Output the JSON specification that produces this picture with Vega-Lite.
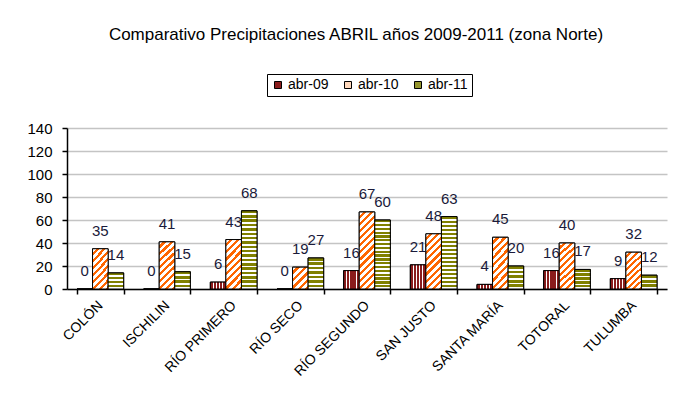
{
  "$schema": "https://vega.github.io/schema/vega-lite/v6.json",
  "width": 600,
  "height": 161,
  "autosize": "none",
  "padding": {"left": 67, "top": 128, "right": 14, "bottom": 125},
  "background": "white",
  "config": {
    "view": {"stroke": null},
    "font": "Liberation Sans",
    "axis": {"labelFont": "Liberation Sans", "labelColor": "#000000"}
  },
  "title": {
    "text": "Comparativo Precipitaciones ABRIL años 2009-2011 (zona Norte)",
    "font": "Liberation Sans",
    "fontSize": 17,
    "fontWeight": "normal",
    "color": "#000000",
    "anchor": "middle",
    "frame": "group",
    "dx": -11,
    "offset": 30
  },
  "data": {
    "values": [
      {"zone": "COLÓN", "year": "abr-09", "value": 0},
      {"zone": "COLÓN", "year": "abr-10", "value": 35},
      {"zone": "COLÓN", "year": "abr-11", "value": 14},
      {"zone": "ISCHILIN", "year": "abr-09", "value": 0},
      {"zone": "ISCHILIN", "year": "abr-10", "value": 41},
      {"zone": "ISCHILIN", "year": "abr-11", "value": 15},
      {"zone": "RÍO PRIMERO", "year": "abr-09", "value": 6},
      {"zone": "RÍO PRIMERO", "year": "abr-10", "value": 43},
      {"zone": "RÍO PRIMERO", "year": "abr-11", "value": 68},
      {"zone": "RÍO SECO", "year": "abr-09", "value": 0},
      {"zone": "RÍO SECO", "year": "abr-10", "value": 19},
      {"zone": "RÍO SECO", "year": "abr-11", "value": 27},
      {"zone": "RÍO SEGUNDO", "year": "abr-09", "value": 16},
      {"zone": "RÍO SEGUNDO", "year": "abr-10", "value": 67},
      {"zone": "RÍO SEGUNDO", "year": "abr-11", "value": 60},
      {"zone": "SAN JUSTO", "year": "abr-09", "value": 21},
      {"zone": "SAN JUSTO", "year": "abr-10", "value": 48},
      {"zone": "SAN JUSTO", "year": "abr-11", "value": 63},
      {"zone": "SANTA MARÍA", "year": "abr-09", "value": 4},
      {"zone": "SANTA MARÍA", "year": "abr-10", "value": 45},
      {"zone": "SANTA MARÍA", "year": "abr-11", "value": 20},
      {"zone": "TOTORAL", "year": "abr-09", "value": 16},
      {"zone": "TOTORAL", "year": "abr-10", "value": 40},
      {"zone": "TOTORAL", "year": "abr-11", "value": 17},
      {"zone": "TULUMBA", "year": "abr-09", "value": 9},
      {"zone": "TULUMBA", "year": "abr-10", "value": 32},
      {"zone": "TULUMBA", "year": "abr-11", "value": 12}
    ]
  },
  "encoding": {
    "x": {
      "field": "zone", "type": "nominal", "sort": null,
      "scale": {"paddingInner": 0.3, "paddingOuter": 0.15},
      "axis": {
        "title": null, "labelAngle": -45, "labelAlign": "right", "labelBaseline": "middle",
        "labelFontSize": 14, "labelPadding": 9, "tickBand": "extent", "tickSize": 5,
        "domainColor": "#000000", "tickColor": "#000000", "domainWidth": 1.5, "tickWidth": 1.5, "grid": false
      }
    },
    "xOffset": {"field": "year", "type": "nominal", "scale": {"paddingInner": 0, "paddingOuter": 0}},
    "y": {
      "field": "value", "type": "quantitative",
      "scale": {"domain": [0, 140], "nice": false},
      "axis": {
        "title": null, "values": [0, 20, 40, 60, 80, 100, 120, 140], "labelFontSize": 15,
        "labelPadding": 10, "tickSize": 5, "domainColor": "#000000", "tickColor": "#000000",
        "domainWidth": 1.5, "tickWidth": 1.5, "grid": true, "gridColor": "#C4C4C4", "gridWidth": 1.5
      }
    }
  },
  "layer": [
    {
      "mark": {"type": "bar", "stroke": "#000000", "strokeWidth": 1},
      "encoding": {
        "fill": {
          "field": "year", "type": "nominal",
          "scale": {"domain": ["abr-09", "abr-10", "abr-11"], "range": ["#8B1C1C", "#FFD8BC", "#96962E"]},
          "legend": {
            "title": null, "orient": "none", "direction": "horizontal",
            "legendX": 200, "legendY": -54,
            "strokeColor": "#000000", "padding": 4,
            "symbolType": "square", "symbolSize": 49, "symbolStrokeColor": "#000000", "symbolStrokeWidth": 1,
            "labelFont": "Liberation Sans", "labelFontSize": 14, "labelColor": "#000000",
            "labelOffset": 3, "columnPadding": 12
          }
        }
      }
    },
    {
      "mark": {"type": "bar", "stroke": "#000000", "strokeWidth": 1},
      "encoding": {
        "fill": {
          "condition": [
            {"test": "datum.year === 'abr-09'", "value": {"gradient": "linear", "x1": 0, "y1": 0, "x2": 1, "y2": 0, "stops": [
              {"offset": 0, "color": "#8B1C1C"}, {"offset": 0.17, "color": "#8B1C1C"}, {"offset": 0.17, "color": "#FFFFFF"}, {"offset": 0.23, "color": "#FFFFFF"},
              {"offset": 0.23, "color": "#8B1C1C"}, {"offset": 0.37, "color": "#8B1C1C"}, {"offset": 0.37, "color": "#FFFFFF"}, {"offset": 0.43, "color": "#FFFFFF"},
              {"offset": 0.43, "color": "#8B1C1C"}, {"offset": 0.57, "color": "#8B1C1C"}, {"offset": 0.57, "color": "#FFFFFF"}, {"offset": 0.63, "color": "#FFFFFF"},
              {"offset": 0.63, "color": "#8B1C1C"}, {"offset": 0.77, "color": "#8B1C1C"}, {"offset": 0.77, "color": "#FFFFFF"}, {"offset": 0.83, "color": "#FFFFFF"},
              {"offset": 0.83, "color": "#8B1C1C"}, {"offset": 1, "color": "#8B1C1C"}]}},
            {"test": "datum.year === 'abr-10' && datum.value < 25", "value": {"gradient": "linear", "x1": 0, "y1": 0, "x2": 0.809, "y2": 1.136, "stops": [
              {"offset": 0, "color": "#FFFFFF"}, {"offset": 0.11, "color": "#FFFFFF"}, {"offset": 0.11, "color": "#FF6600"}, {"offset": 0.2, "color": "#FF6600"},
              {"offset": 0.2, "color": "#FFFFFF"}, {"offset": 0.31, "color": "#FFFFFF"}, {"offset": 0.31, "color": "#FF6600"}, {"offset": 0.4, "color": "#FF6600"},
              {"offset": 0.4, "color": "#FFFFFF"}, {"offset": 0.51, "color": "#FFFFFF"}, {"offset": 0.51, "color": "#FF6600"}, {"offset": 0.6, "color": "#FF6600"},
              {"offset": 0.6, "color": "#FFFFFF"}, {"offset": 0.71, "color": "#FFFFFF"}, {"offset": 0.71, "color": "#FF6600"}, {"offset": 0.8, "color": "#FF6600"},
              {"offset": 0.8, "color": "#FFFFFF"}, {"offset": 0.91, "color": "#FFFFFF"}, {"offset": 0.91, "color": "#FF6600"}, {"offset": 1, "color": "#FF6600"}]}},
            {"test": "datum.year === 'abr-10' && datum.value < 38", "value": {"gradient": "linear", "x1": 0, "y1": 0, "x2": 0.488, "y2": 1.207, "stops": [
              {"offset": 0, "color": "#FFFFFF"}, {"offset": 0.069, "color": "#FFFFFF"}, {"offset": 0.069, "color": "#FF6600"}, {"offset": 0.125, "color": "#FF6600"},
              {"offset": 0.125, "color": "#FFFFFF"}, {"offset": 0.194, "color": "#FFFFFF"}, {"offset": 0.194, "color": "#FF6600"}, {"offset": 0.25, "color": "#FF6600"},
              {"offset": 0.25, "color": "#FFFFFF"}, {"offset": 0.319, "color": "#FFFFFF"}, {"offset": 0.319, "color": "#FF6600"}, {"offset": 0.375, "color": "#FF6600"},
              {"offset": 0.375, "color": "#FFFFFF"}, {"offset": 0.444, "color": "#FFFFFF"}, {"offset": 0.444, "color": "#FF6600"}, {"offset": 0.5, "color": "#FF6600"},
              {"offset": 0.5, "color": "#FFFFFF"}, {"offset": 0.569, "color": "#FFFFFF"}, {"offset": 0.569, "color": "#FF6600"}, {"offset": 0.625, "color": "#FF6600"},
              {"offset": 0.625, "color": "#FFFFFF"}, {"offset": 0.694, "color": "#FFFFFF"}, {"offset": 0.694, "color": "#FF6600"}, {"offset": 0.75, "color": "#FF6600"},
              {"offset": 0.75, "color": "#FFFFFF"}, {"offset": 0.819, "color": "#FFFFFF"}, {"offset": 0.819, "color": "#FF6600"}, {"offset": 0.875, "color": "#FF6600"},
              {"offset": 0.875, "color": "#FFFFFF"}, {"offset": 0.944, "color": "#FFFFFF"}, {"offset": 0.944, "color": "#FF6600"}, {"offset": 1, "color": "#FF6600"}]}},
            {"test": "datum.year === 'abr-10' && datum.value < 46", "value": {"gradient": "linear", "x1": 0, "y1": 0, "x2": 0.383, "y2": 1.197, "stops": [
              {"offset": 0, "color": "#FFFFFF"}, {"offset": 0.061, "color": "#FFFFFF"}, {"offset": 0.061, "color": "#FF6600"}, {"offset": 0.111, "color": "#FF6600"},
              {"offset": 0.111, "color": "#FFFFFF"}, {"offset": 0.172, "color": "#FFFFFF"}, {"offset": 0.172, "color": "#FF6600"}, {"offset": 0.222, "color": "#FF6600"},
              {"offset": 0.222, "color": "#FFFFFF"}, {"offset": 0.283, "color": "#FFFFFF"}, {"offset": 0.283, "color": "#FF6600"}, {"offset": 0.333, "color": "#FF6600"},
              {"offset": 0.333, "color": "#FFFFFF"}, {"offset": 0.394, "color": "#FFFFFF"}, {"offset": 0.394, "color": "#FF6600"}, {"offset": 0.444, "color": "#FF6600"},
              {"offset": 0.444, "color": "#FFFFFF"}, {"offset": 0.506, "color": "#FFFFFF"}, {"offset": 0.506, "color": "#FF6600"}, {"offset": 0.556, "color": "#FF6600"},
              {"offset": 0.556, "color": "#FFFFFF"}, {"offset": 0.617, "color": "#FFFFFF"}, {"offset": 0.617, "color": "#FF6600"}, {"offset": 0.667, "color": "#FF6600"},
              {"offset": 0.667, "color": "#FFFFFF"}, {"offset": 0.728, "color": "#FFFFFF"}, {"offset": 0.728, "color": "#FF6600"}, {"offset": 0.778, "color": "#FF6600"},
              {"offset": 0.778, "color": "#FFFFFF"}, {"offset": 0.839, "color": "#FFFFFF"}, {"offset": 0.839, "color": "#FF6600"}, {"offset": 0.889, "color": "#FF6600"},
              {"offset": 0.889, "color": "#FFFFFF"}, {"offset": 0.95, "color": "#FFFFFF"}, {"offset": 0.95, "color": "#FF6600"}, {"offset": 1, "color": "#FF6600"}]}},
            {"test": "datum.year === 'abr-10' && datum.value < 55", "value": {"gradient": "linear", "x1": 0, "y1": 0, "x2": 0.335, "y2": 1.187, "stops": [
              {"offset": 0, "color": "#FFFFFF"}, {"offset": 0.055, "color": "#FFFFFF"}, {"offset": 0.055, "color": "#FF6600"}, {"offset": 0.1, "color": "#FF6600"},
              {"offset": 0.1, "color": "#FFFFFF"}, {"offset": 0.155, "color": "#FFFFFF"}, {"offset": 0.155, "color": "#FF6600"}, {"offset": 0.2, "color": "#FF6600"},
              {"offset": 0.2, "color": "#FFFFFF"}, {"offset": 0.255, "color": "#FFFFFF"}, {"offset": 0.255, "color": "#FF6600"}, {"offset": 0.3, "color": "#FF6600"},
              {"offset": 0.3, "color": "#FFFFFF"}, {"offset": 0.355, "color": "#FFFFFF"}, {"offset": 0.355, "color": "#FF6600"}, {"offset": 0.4, "color": "#FF6600"},
              {"offset": 0.4, "color": "#FFFFFF"}, {"offset": 0.455, "color": "#FFFFFF"}, {"offset": 0.455, "color": "#FF6600"}, {"offset": 0.5, "color": "#FF6600"},
              {"offset": 0.5, "color": "#FFFFFF"}, {"offset": 0.555, "color": "#FFFFFF"}, {"offset": 0.555, "color": "#FF6600"}, {"offset": 0.6, "color": "#FF6600"},
              {"offset": 0.6, "color": "#FFFFFF"}, {"offset": 0.655, "color": "#FFFFFF"}, {"offset": 0.655, "color": "#FF6600"}, {"offset": 0.7, "color": "#FF6600"},
              {"offset": 0.7, "color": "#FFFFFF"}, {"offset": 0.755, "color": "#FFFFFF"}, {"offset": 0.755, "color": "#FF6600"}, {"offset": 0.8, "color": "#FF6600"},
              {"offset": 0.8, "color": "#FFFFFF"}, {"offset": 0.855, "color": "#FFFFFF"}, {"offset": 0.855, "color": "#FF6600"}, {"offset": 0.9, "color": "#FF6600"},
              {"offset": 0.9, "color": "#FFFFFF"}, {"offset": 0.955, "color": "#FFFFFF"}, {"offset": 0.955, "color": "#FF6600"}, {"offset": 1, "color": "#FF6600"}]}},
            {"test": "datum.year === 'abr-10'", "value": {"gradient": "linear", "x1": 0, "y1": 0, "x2": 0.233, "y2": 1.155, "stops": [
              {"offset": 0, "color": "#FFFFFF"}, {"offset": 0.042, "color": "#FFFFFF"}, {"offset": 0.042, "color": "#FF6600"}, {"offset": 0.077, "color": "#FF6600"},
              {"offset": 0.077, "color": "#FFFFFF"}, {"offset": 0.119, "color": "#FFFFFF"}, {"offset": 0.119, "color": "#FF6600"}, {"offset": 0.154, "color": "#FF6600"},
              {"offset": 0.154, "color": "#FFFFFF"}, {"offset": 0.196, "color": "#FFFFFF"}, {"offset": 0.196, "color": "#FF6600"}, {"offset": 0.231, "color": "#FF6600"},
              {"offset": 0.231, "color": "#FFFFFF"}, {"offset": 0.273, "color": "#FFFFFF"}, {"offset": 0.273, "color": "#FF6600"}, {"offset": 0.308, "color": "#FF6600"},
              {"offset": 0.308, "color": "#FFFFFF"}, {"offset": 0.35, "color": "#FFFFFF"}, {"offset": 0.35, "color": "#FF6600"}, {"offset": 0.385, "color": "#FF6600"},
              {"offset": 0.385, "color": "#FFFFFF"}, {"offset": 0.427, "color": "#FFFFFF"}, {"offset": 0.427, "color": "#FF6600"}, {"offset": 0.462, "color": "#FF6600"},
              {"offset": 0.462, "color": "#FFFFFF"}, {"offset": 0.504, "color": "#FFFFFF"}, {"offset": 0.504, "color": "#FF6600"}, {"offset": 0.538, "color": "#FF6600"},
              {"offset": 0.538, "color": "#FFFFFF"}, {"offset": 0.581, "color": "#FFFFFF"}, {"offset": 0.581, "color": "#FF6600"}, {"offset": 0.615, "color": "#FF6600"},
              {"offset": 0.615, "color": "#FFFFFF"}, {"offset": 0.658, "color": "#FFFFFF"}, {"offset": 0.658, "color": "#FF6600"}, {"offset": 0.692, "color": "#FF6600"},
              {"offset": 0.692, "color": "#FFFFFF"}, {"offset": 0.735, "color": "#FFFFFF"}, {"offset": 0.735, "color": "#FF6600"}, {"offset": 0.769, "color": "#FF6600"},
              {"offset": 0.769, "color": "#FFFFFF"}, {"offset": 0.812, "color": "#FFFFFF"}, {"offset": 0.812, "color": "#FF6600"}, {"offset": 0.846, "color": "#FF6600"},
              {"offset": 0.846, "color": "#FFFFFF"}, {"offset": 0.889, "color": "#FFFFFF"}, {"offset": 0.889, "color": "#FF6600"}, {"offset": 0.923, "color": "#FF6600"},
              {"offset": 0.923, "color": "#FFFFFF"}, {"offset": 0.966, "color": "#FFFFFF"}, {"offset": 0.966, "color": "#FF6600"}, {"offset": 1, "color": "#FF6600"}]}},
            {"test": "datum.year === 'abr-11' && datum.value < 13", "value": {"gradient": "linear", "x1": 0, "y1": 0, "x2": 0, "y2": 1, "stops": [
              {"offset": 0, "color": "#808000"}, {"offset": 0.2, "color": "#808000"}, {"offset": 0.2, "color": "#FFFFFF"}, {"offset": 0.333, "color": "#FFFFFF"},
              {"offset": 0.333, "color": "#808000"}, {"offset": 0.533, "color": "#808000"}, {"offset": 0.533, "color": "#FFFFFF"}, {"offset": 0.667, "color": "#FFFFFF"},
              {"offset": 0.667, "color": "#808000"}, {"offset": 0.867, "color": "#808000"}, {"offset": 0.867, "color": "#FFFFFF"}, {"offset": 1, "color": "#FFFFFF"}]}},
            {"test": "datum.year === 'abr-11' && datum.value < 16", "value": {"gradient": "linear", "x1": 0, "y1": 0, "x2": 0, "y2": 1, "stops": [
              {"offset": 0, "color": "#808000"}, {"offset": 0.15, "color": "#808000"}, {"offset": 0.15, "color": "#FFFFFF"}, {"offset": 0.25, "color": "#FFFFFF"},
              {"offset": 0.25, "color": "#808000"}, {"offset": 0.4, "color": "#808000"}, {"offset": 0.4, "color": "#FFFFFF"}, {"offset": 0.5, "color": "#FFFFFF"},
              {"offset": 0.5, "color": "#808000"}, {"offset": 0.65, "color": "#808000"}, {"offset": 0.65, "color": "#FFFFFF"}, {"offset": 0.75, "color": "#FFFFFF"},
              {"offset": 0.75, "color": "#808000"}, {"offset": 0.9, "color": "#808000"}, {"offset": 0.9, "color": "#FFFFFF"}, {"offset": 1, "color": "#FFFFFF"}]}},
            {"test": "datum.year === 'abr-11' && datum.value < 22", "value": {"gradient": "linear", "x1": 0, "y1": 0, "x2": 0, "y2": 1, "stops": [
              {"offset": 0, "color": "#808000"}, {"offset": 0.12, "color": "#808000"}, {"offset": 0.12, "color": "#FFFFFF"}, {"offset": 0.2, "color": "#FFFFFF"},
              {"offset": 0.2, "color": "#808000"}, {"offset": 0.32, "color": "#808000"}, {"offset": 0.32, "color": "#FFFFFF"}, {"offset": 0.4, "color": "#FFFFFF"},
              {"offset": 0.4, "color": "#808000"}, {"offset": 0.52, "color": "#808000"}, {"offset": 0.52, "color": "#FFFFFF"}, {"offset": 0.6, "color": "#FFFFFF"},
              {"offset": 0.6, "color": "#808000"}, {"offset": 0.72, "color": "#808000"}, {"offset": 0.72, "color": "#FFFFFF"}, {"offset": 0.8, "color": "#FFFFFF"},
              {"offset": 0.8, "color": "#808000"}, {"offset": 0.92, "color": "#808000"}, {"offset": 0.92, "color": "#FFFFFF"}, {"offset": 1, "color": "#FFFFFF"}]}},
            {"test": "datum.year === 'abr-11' && datum.value < 40", "value": {"gradient": "linear", "x1": 0, "y1": 0, "x2": 0, "y2": 1, "stops": [
              {"offset": 0, "color": "#808000"}, {"offset": 0.086, "color": "#808000"}, {"offset": 0.086, "color": "#FFFFFF"}, {"offset": 0.143, "color": "#FFFFFF"},
              {"offset": 0.143, "color": "#808000"}, {"offset": 0.229, "color": "#808000"}, {"offset": 0.229, "color": "#FFFFFF"}, {"offset": 0.286, "color": "#FFFFFF"},
              {"offset": 0.286, "color": "#808000"}, {"offset": 0.371, "color": "#808000"}, {"offset": 0.371, "color": "#FFFFFF"}, {"offset": 0.429, "color": "#FFFFFF"},
              {"offset": 0.429, "color": "#808000"}, {"offset": 0.514, "color": "#808000"}, {"offset": 0.514, "color": "#FFFFFF"}, {"offset": 0.571, "color": "#FFFFFF"},
              {"offset": 0.571, "color": "#808000"}, {"offset": 0.657, "color": "#808000"}, {"offset": 0.657, "color": "#FFFFFF"}, {"offset": 0.714, "color": "#FFFFFF"},
              {"offset": 0.714, "color": "#808000"}, {"offset": 0.8, "color": "#808000"}, {"offset": 0.8, "color": "#FFFFFF"}, {"offset": 0.857, "color": "#FFFFFF"},
              {"offset": 0.857, "color": "#808000"}, {"offset": 0.943, "color": "#808000"}, {"offset": 0.943, "color": "#FFFFFF"}, {"offset": 1, "color": "#FFFFFF"}]}},
            {"test": "datum.year === 'abr-11'", "value": {"gradient": "linear", "x1": 0, "y1": 0, "x2": 0, "y2": 1, "stops": [
              {"offset": 0, "color": "#808000"}, {"offset": 0.033, "color": "#808000"}, {"offset": 0.033, "color": "#FFFFFF"}, {"offset": 0.056, "color": "#FFFFFF"},
              {"offset": 0.056, "color": "#808000"}, {"offset": 0.089, "color": "#808000"}, {"offset": 0.089, "color": "#FFFFFF"}, {"offset": 0.111, "color": "#FFFFFF"},
              {"offset": 0.111, "color": "#808000"}, {"offset": 0.144, "color": "#808000"}, {"offset": 0.144, "color": "#FFFFFF"}, {"offset": 0.167, "color": "#FFFFFF"},
              {"offset": 0.167, "color": "#808000"}, {"offset": 0.2, "color": "#808000"}, {"offset": 0.2, "color": "#FFFFFF"}, {"offset": 0.222, "color": "#FFFFFF"},
              {"offset": 0.222, "color": "#808000"}, {"offset": 0.256, "color": "#808000"}, {"offset": 0.256, "color": "#FFFFFF"}, {"offset": 0.278, "color": "#FFFFFF"},
              {"offset": 0.278, "color": "#808000"}, {"offset": 0.311, "color": "#808000"}, {"offset": 0.311, "color": "#FFFFFF"}, {"offset": 0.333, "color": "#FFFFFF"},
              {"offset": 0.333, "color": "#808000"}, {"offset": 0.367, "color": "#808000"}, {"offset": 0.367, "color": "#FFFFFF"}, {"offset": 0.389, "color": "#FFFFFF"},
              {"offset": 0.389, "color": "#808000"}, {"offset": 0.422, "color": "#808000"}, {"offset": 0.422, "color": "#FFFFFF"}, {"offset": 0.444, "color": "#FFFFFF"},
              {"offset": 0.444, "color": "#808000"}, {"offset": 0.478, "color": "#808000"}, {"offset": 0.478, "color": "#FFFFFF"}, {"offset": 0.5, "color": "#FFFFFF"},
              {"offset": 0.5, "color": "#808000"}, {"offset": 0.533, "color": "#808000"}, {"offset": 0.533, "color": "#FFFFFF"}, {"offset": 0.556, "color": "#FFFFFF"},
              {"offset": 0.556, "color": "#808000"}, {"offset": 0.589, "color": "#808000"}, {"offset": 0.589, "color": "#FFFFFF"}, {"offset": 0.611, "color": "#FFFFFF"},
              {"offset": 0.611, "color": "#808000"}, {"offset": 0.644, "color": "#808000"}, {"offset": 0.644, "color": "#FFFFFF"}, {"offset": 0.667, "color": "#FFFFFF"},
              {"offset": 0.667, "color": "#808000"}, {"offset": 0.7, "color": "#808000"}, {"offset": 0.7, "color": "#FFFFFF"}, {"offset": 0.722, "color": "#FFFFFF"},
              {"offset": 0.722, "color": "#808000"}, {"offset": 0.756, "color": "#808000"}, {"offset": 0.756, "color": "#FFFFFF"}, {"offset": 0.778, "color": "#FFFFFF"},
              {"offset": 0.778, "color": "#808000"}, {"offset": 0.811, "color": "#808000"}, {"offset": 0.811, "color": "#FFFFFF"}, {"offset": 0.833, "color": "#FFFFFF"},
              {"offset": 0.833, "color": "#808000"}, {"offset": 0.867, "color": "#808000"}, {"offset": 0.867, "color": "#FFFFFF"}, {"offset": 0.889, "color": "#FFFFFF"},
              {"offset": 0.889, "color": "#808000"}, {"offset": 0.922, "color": "#808000"}, {"offset": 0.922, "color": "#FFFFFF"}, {"offset": 0.944, "color": "#FFFFFF"},
              {"offset": 0.944, "color": "#808000"}, {"offset": 0.978, "color": "#808000"}, {"offset": 0.978, "color": "#FFFFFF"}, {"offset": 1, "color": "#FFFFFF"}]}}
          ],
          "value": "#FFFFFF"
        }
      }
    },
    {
      "mark": {"type": "text", "baseline": "middle", "align": "center", "dy": -18, "fontSize": 15, "font": "Liberation Sans", "color": "#1A1A3A"},
      "encoding": {"text": {"field": "value", "type": "quantitative"}}
    }
  ]
}
